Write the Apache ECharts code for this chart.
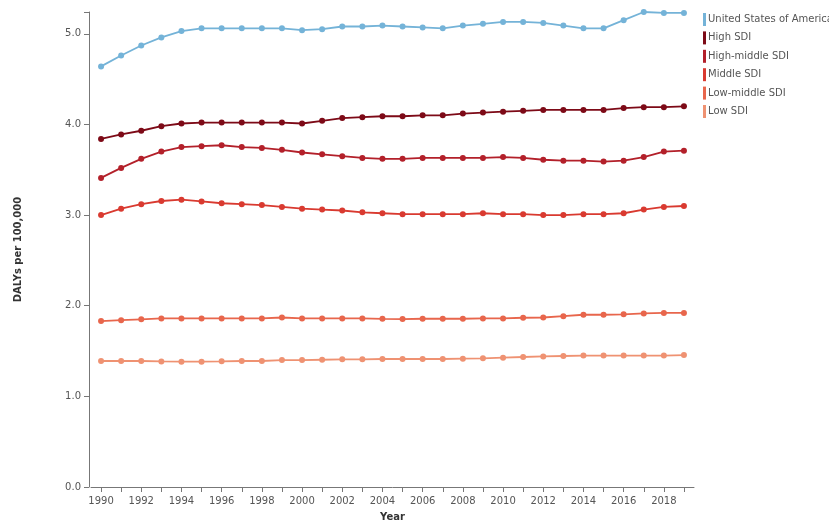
<!DOCTYPE html>
<html>
<head>
<meta charset="utf-8">
<script src="https://cdn.jsdelivr.net/npm/echarts@6/dist/echarts.min.js"></script>
<style>
  html, body { margin: 0; padding: 0; background: #fff; }
  #main { width: 829px; height: 527px; }
</style>
</head>
<body>
<div id="main"></div>
<script>
var years = [];
for (var y = 1990; y <= 2019; y++) years.push(String(y));

var seriesNames = ['United States of America', 'High SDI', 'High-middle SDI', 'Middle SDI', 'Low-middle SDI', 'Low SDI'];
var seriesColors = ['#74b3d8', '#7d0a17', '#b3202a', '#d93a30', '#e8664c', '#ef9272'];

var usa = [4.64, 4.76, 4.87, 4.96, 5.03, 5.06, 5.06, 5.06, 5.06, 5.06, 5.04, 5.05, 5.08, 5.08, 5.09, 5.08,
  5.07, 5.06, 5.09, 5.11, 5.13, 5.13, 5.12, 5.09, 5.06, 5.06, 5.15, 5.24, 5.23, 5.23];
var highSdi = [3.84, 3.89, 3.93, 3.98, 4.01, 4.02, 4.02, 4.02, 4.02, 4.02, 4.01, 4.04, 4.07, 4.08, 4.09, 4.09,
  4.10, 4.10, 4.12, 4.13, 4.14, 4.15, 4.16, 4.16, 4.16, 4.16, 4.18, 4.19, 4.19, 4.20];
var highMiddleSdi = [3.41, 3.52, 3.62, 3.70, 3.75, 3.76, 3.77, 3.75, 3.74, 3.72, 3.69, 3.67, 3.65, 3.63, 3.62, 3.62,
  3.63, 3.63, 3.63, 3.63, 3.64, 3.63, 3.61, 3.60, 3.60, 3.59, 3.60, 3.64, 3.70, 3.71];
var middleSdi = [3.00, 3.07, 3.12, 3.155, 3.17, 3.15, 3.13, 3.12, 3.11, 3.09, 3.07, 3.06, 3.05, 3.03, 3.02, 3.01,
  3.01, 3.01, 3.01, 3.02, 3.01, 3.01, 3.00, 3.00, 3.01, 3.01, 3.02, 3.06, 3.09, 3.10];
var lowMiddleSdi = [1.83, 1.84, 1.85, 1.86, 1.86, 1.86, 1.86, 1.86, 1.86, 1.87, 1.86, 1.86, 1.86, 1.86, 1.855, 1.853,
  1.856, 1.856, 1.856, 1.86, 1.86, 1.867, 1.87, 1.885, 1.90, 1.90, 1.905, 1.915, 1.92, 1.92];
var lowSdi = [1.39, 1.39, 1.39, 1.385, 1.383, 1.383, 1.386, 1.39, 1.39, 1.40, 1.40, 1.404, 1.408, 1.408, 1.412, 1.412,
  1.412, 1.412, 1.416, 1.42, 1.427, 1.434, 1.44, 1.445, 1.45, 1.45, 1.45, 1.45, 1.45, 1.455];

var seriesData = [usa, highSdi, highMiddleSdi, middleSdi, lowMiddleSdi, lowSdi];

var myChart = echarts.init(document.getElementById('main'));

var series = seriesNames.map(function (name, i) {
    return {
        name: name,
        type: 'line',
        data: seriesData[i],
        symbol: 'circle',
        symbolSize: 6,
        color: seriesColors[i],
        lineStyle: { width: 1.8, color: seriesColors[i] },
        itemStyle: { color: seriesColors[i] },
        animation: false
    };
});

var option = {
    backgroundColor: '#fff',
    textStyle: { fontFamily: 'DejaVu Sans' },
    legend: {
        orient: 'vertical',
        left: 698,
        top: 8,
        icon: 'rect',
        itemWidth: 3,
        itemHeight: 13,
        itemGap: 5.4,
        textStyle: { color: '#555', fontSize: 10, padding: [0, 0, 0, -3] },
        data: seriesNames
    },
    grid: {
        left: 91,
        right: 135,
        top: 12,
        bottom: 35
    },
    xAxis: {
        type: 'category',
        data: years,
        boundaryGap: true,
        offset: 3,
        name: 'Year',
        nameLocation: 'middle',
        nameGap: 22,
        nameTextStyle: { color: '#333', fontSize: 10, fontWeight: 'bold' },
        axisLine: { lineStyle: { color: '#777', width: 1 } },
        axisTick: { show: true, alignWithLabel: true, interval: 0, length: 5, lineStyle: { color: '#777' } },
        axisLabel: { interval: 1, color: '#555', fontSize: 10, margin: 6 },
        splitLine: { show: false }
    },
    yAxis: {
        type: 'value',
        min: 0,
        max: 5.24,
        interval: 1,
        offset: 2,
        name: 'DALYs per 100,000',
        nameLocation: 'middle',
        nameGap: 66,
        nameTextStyle: { color: '#333', fontSize: 10, fontWeight: 'bold' },
        axisLine: { show: true, lineStyle: { color: '#777', width: 1 } },
        axisTick: { show: true, length: 5, lineStyle: { color: '#777' } },
        axisLabel: {
            color: '#555',
            fontSize: 10,
            margin: 8,
            formatter: function (v) {
                return Math.abs(v - Math.round(v)) < 1e-6 ? v.toFixed(1) : '';
            }
        },
        splitLine: { show: false }
    },
    series: series
};

myChart.setOption(option);
</script>
</body>
</html>
